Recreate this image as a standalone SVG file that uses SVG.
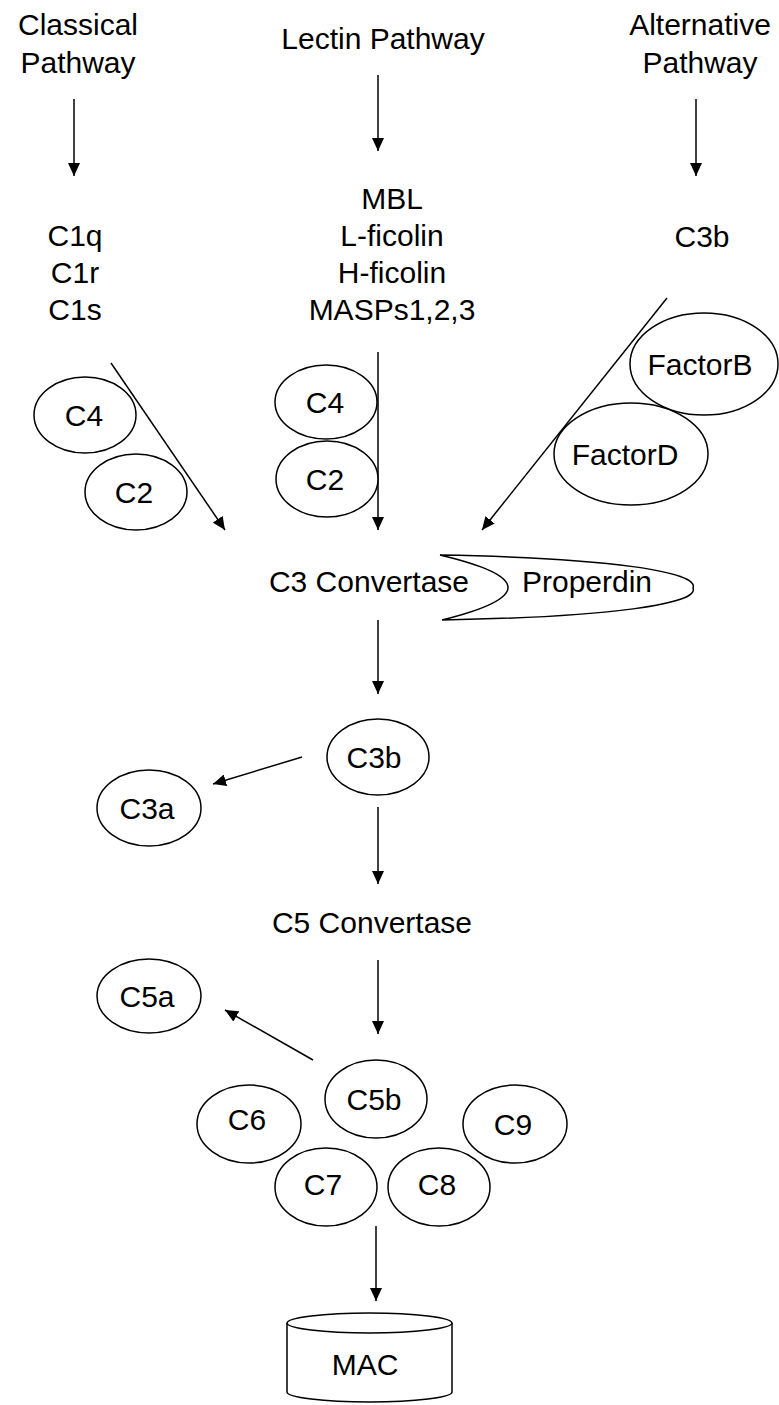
<svg xmlns="http://www.w3.org/2000/svg" width="779" height="1405" viewBox="0 0 779 1405">
<style>
text{font-family:"Liberation Sans",Arial,sans-serif;font-size:30px;fill:#000;text-anchor:middle}
.n{fill:#fff;stroke:#000;stroke-width:1.5}
.c{stroke:#000;stroke-width:1.5;fill:none;marker-end:url(#ah)}
</style>
<defs>
<marker id="ah" markerUnits="userSpaceOnUse" markerWidth="14" markerHeight="12" refX="13" refY="6" orient="auto">
<path d="M0,0 L13,6 L0,12 Z" fill="#000"/>
</marker>
</defs>
<rect width="779" height="1405" fill="#fff"/>
<g id="classical-pathway"><text x="78" y="35">Classical</text><text x="78" y="73">Pathway</text></g>
<g id="lectin-pathway"><text x="383" y="49">Lectin Pathway</text></g>
<g id="alternative-pathway"><text x="700" y="35">Alternative</text><text x="700" y="73">Pathway</text></g>
<g id="c1"><text x="75" y="246">C1q</text><text x="75" y="283">C1r</text><text x="75" y="320">C1s</text></g>
<g id="lectins"><text x="392" y="209">MBL</text><text x="392" y="246">L-ficolin</text><text x="392" y="283">H-ficolin</text><text x="392" y="320">MASPs1,2,3</text></g>
<g id="alt-c3b"><text x="702" y="247">C3b</text></g>
<g id="connectors">
<line class="c" x1="74" y1="99" x2="74" y2="176"/>
<line class="c" x1="378" y1="75" x2="378" y2="151"/>
<line class="c" x1="696" y1="99" x2="696" y2="176"/>
<line class="c" x1="111" y1="363" x2="225" y2="530"/>
<line class="c" x1="378" y1="352" x2="378" y2="530"/>
<line class="c" x1="667" y1="298" x2="482" y2="530"/>
<line class="c" x1="378" y1="620" x2="378" y2="694"/>
<line class="c" x1="302" y1="757" x2="213" y2="784"/>
<line class="c" x1="378" y1="807" x2="378" y2="884"/>
<line class="c" x1="378" y1="960" x2="378" y2="1034"/>
<line class="c" x1="313" y1="1060" x2="225" y2="1010"/>
<line class="c" x1="376" y1="1226" x2="376" y2="1301"/>
</g>
<g id="c4-classical"><ellipse class="n" cx="85" cy="415" rx="51" ry="38"/><text x="84" y="426">C4</text></g>
<g id="c2-classical"><ellipse class="n" cx="136" cy="492" rx="51" ry="38"/><text x="134" y="503">C2</text></g>
<g id="c4-lectin"><ellipse class="n" cx="326" cy="402" rx="51" ry="37"/><text x="325" y="413">C4</text></g>
<g id="c2-lectin"><ellipse class="n" cx="327" cy="479" rx="51" ry="38"/><text x="325" y="490">C2</text></g>
<g id="factor-b"><ellipse class="n" cx="704" cy="364" rx="74" ry="51"/><text x="700" y="375">FactorB</text></g>
<g id="factor-d"><ellipse class="n" cx="631" cy="454" rx="77" ry="51"/><text x="625" y="465">FactorD</text></g>
<g id="c3-convertase"><text x="369" y="592">C3 Convertase</text></g>
<g id="properdin"><path class="n" d="M440,555 C610,558 700,572 693,588 C700,604 610,617 442,620 Q575,587 440,555 Z"/><text x="587" y="592">Properdin</text></g>
<g id="c3b"><ellipse class="n" cx="378" cy="757" rx="51" ry="38"/><text x="374" y="768">C3b</text></g>
<g id="c3a"><ellipse class="n" cx="149" cy="808" rx="52" ry="38"/><text x="147" y="819">C3a</text></g>
<g id="c5-convertase"><text x="372" y="933">C5 Convertase</text></g>
<g id="c5a"><ellipse class="n" cx="149" cy="996" rx="52" ry="37"/><text x="147" y="1007">C5a</text></g>
<g id="c5b"><ellipse class="n" cx="376" cy="1099" rx="51" ry="39"/><text x="374" y="1110">C5b</text></g>
<g id="c6"><ellipse class="n" cx="249" cy="1124" rx="52" ry="39"/><text x="247" y="1130">C6</text></g>
<g id="c9"><ellipse class="n" cx="515" cy="1124" rx="52" ry="39"/><text x="513" y="1135">C9</text></g>
<g id="c7"><ellipse class="n" cx="326" cy="1187" rx="51" ry="39"/><text x="323" y="1195">C7</text></g>
<g id="c8"><ellipse class="n" cx="439" cy="1187" rx="51" ry="39"/><text x="437" y="1195">C8</text></g>
<g id="mac"><path class="n" d="M287,1323 L287,1392 A82.5,10 0 0 0 452,1392 L452,1323"/><ellipse class="n" cx="369.5" cy="1323" rx="82.5" ry="10"/><text x="365" y="1375">MAC</text></g>
</svg>
